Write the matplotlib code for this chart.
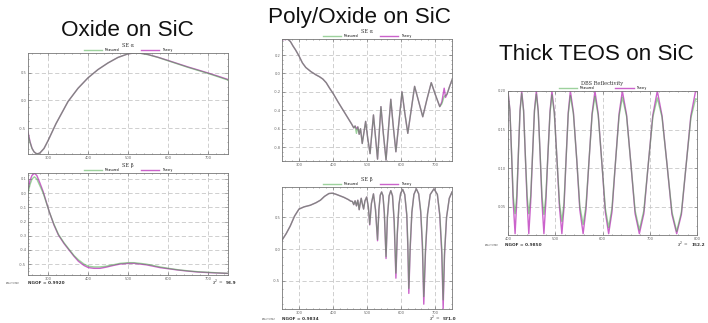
import matplotlib.pyplot as plt
from matplotlib.ticker import FixedLocator, AutoMinorLocator

# ---- Oxide on SiC : SE alpha ----
ox_a_wl = [250, 255, 260, 265, 270, 275, 280, 290, 300, 320, 350, 375, 400, 425,
           450, 475, 500, 515, 530, 550, 575, 600, 625, 650, 675, 700, 725, 750]
ox_a_meas = [-0.60, -0.76, -0.87, -0.93, -0.96, -0.965, -0.95, -0.87, -0.73, -0.42,
             -0.02, 0.22, 0.41, 0.56, 0.68, 0.78, 0.845, 0.86, 0.855, 0.83, 0.78,
             0.72, 0.66, 0.60, 0.545, 0.49, 0.43, 0.37]
ox_a_theo = [-0.57, -0.745, -0.865, -0.93, -0.96, -0.965, -0.95, -0.87, -0.73, -0.42,
             -0.02, 0.22, 0.41, 0.56, 0.68, 0.78, 0.845, 0.86, 0.858, 0.833, 0.783,
             0.725, 0.666, 0.607, 0.553, 0.498, 0.44, 0.38]

# ---- Oxide on SiC : SE beta ----
ox_b_wl = [250, 255, 260, 266, 272, 280, 288, 295, 303, 315, 326, 340, 351, 365, 376,
           390, 401, 415, 430, 445, 463, 480, 501, 515, 530, 545, 563, 580, 601, 625,
           651, 675, 701, 725, 750]
ox_b_meas = [0.00, 0.06, 0.10, 0.115, 0.10, 0.05, 0.00, -0.06, -0.13, -0.22, -0.29,
             -0.35, -0.39, -0.44, -0.47, -0.50, -0.515, -0.52, -0.52, -0.515, -0.505,
             -0.495, -0.49, -0.49, -0.495, -0.50, -0.51, -0.52, -0.53, -0.54, -0.548,
             -0.554, -0.558, -0.562, -0.565]
ox_b_theo = [0.02, 0.09, 0.125, 0.14, 0.125, 0.07, 0.01, -0.055, -0.13, -0.225, -0.295,
             -0.355, -0.395, -0.445, -0.48, -0.51, -0.525, -0.53, -0.53, -0.522, -0.51,
             -0.50, -0.495, -0.495, -0.50, -0.505, -0.515, -0.525, -0.533, -0.542, -0.55,
             -0.556, -0.56, -0.563, -0.566]

# ---- Poly/Oxide on SiC : SE alpha ----
po_a_wl = [250, 260, 268, 275, 282, 290, 300, 310, 320, 335, 350, 360, 370, 380, 390,
           400, 415, 430, 445, 455, 461, 465, 469, 473, 477, 481, 486, 491, 496, 502,
           509, 514, 519, 525, 531, 536, 541, 548, 556, 563, 570, 577, 585, 594, 603,
           611, 620, 630, 640, 652, 664, 676, 689, 701, 714, 720, 727, 731, 736, 743, 750]
po_a_meas = [0.37, 0.375, 0.37, 0.345, 0.30, 0.255, 0.19, 0.115, 0.065, 0.02, -0.015,
             -0.035, -0.06, -0.10, -0.16, -0.215, -0.31, -0.40, -0.49, -0.55, -0.59,
             -0.57, -0.65, -0.58, -0.66, -0.60, -0.76, -0.64, -0.52, -0.70, -0.87,
             -0.66, -0.45, -0.69, -0.93, -0.645, -0.36, -0.65, -0.94, -0.61, -0.28,
             -0.565, -0.85, -0.525, -0.20, -0.425, -0.65, -0.395, -0.14, -0.305, -0.47,
             -0.285, -0.10, -0.23, -0.36, -0.33, -0.25, -0.24, -0.22, -0.14, -0.07]
po_a_theo = [0.365, 0.37, 0.37, 0.345, 0.30, 0.255, 0.19, 0.115, 0.065, 0.02, -0.015,
             -0.035, -0.06, -0.10, -0.16, -0.215, -0.31, -0.40, -0.49, -0.55, -0.59,
             -0.57, -0.60, -0.58, -0.66, -0.60, -0.76, -0.64, -0.52, -0.70, -0.87,
             -0.66, -0.45, -0.69, -0.93, -0.645, -0.36, -0.65, -0.94, -0.61, -0.28,
             -0.565, -0.85, -0.525, -0.20, -0.425, -0.65, -0.395, -0.14, -0.305, -0.47,
             -0.285, -0.10, -0.23, -0.36, -0.31, -0.16, -0.26, -0.22, -0.14, -0.07]

# ---- Poly/Oxide on SiC : SE beta ----
po_b_wl = [250, 262, 274, 287, 300, 315, 333, 350, 363, 375, 388, 398, 408, 420, 432,
           445, 452, 457, 461, 465, 469, 473, 477, 480, 483, 486, 490, 494, 499, 504,
           508, 513, 519, 525, 531, 535, 539, 543, 547, 551, 556, 560, 565, 570, 575,
           580, 585, 589, 594, 599, 605, 611, 617, 620, 623, 627, 632, 638, 645, 652,
           658, 663, 667, 672, 678, 686, 697, 707, 714, 720, 724, 728, 734, 742, 750]
po_b_meas = [0.14, 0.24, 0.36, 0.52, 0.63, 0.665, 0.69, 0.73, 0.77, 0.83, 0.875, 0.88,
             0.865, 0.84, 0.815, 0.78, 0.755, 0.75, 0.70, 0.76, 0.68, 0.77, 0.62, 0.72,
             0.80, 0.72, 0.63, 0.76, 0.82, 0.66, 0.39, 0.72, 0.87, 0.62, 0.15, 0.62,
             0.85, 0.90, 0.84, 0.58, -0.12, 0.50, 0.84, 0.92, 0.84, 0.45, -0.38, 0.25,
             0.70, 0.88, 0.94, 0.86, 0.55, 0.10, -0.62, 0.05, 0.58, 0.86, 0.95, 0.87,
             0.60, 0.10, -0.75, 0.0, 0.55, 0.86, 0.95, 0.86, 0.55, 0.0, -0.80, -0.05,
             0.50, 0.80, 0.90]
po_b_theo = [0.14, 0.24, 0.36, 0.52, 0.63, 0.665, 0.69, 0.73, 0.77, 0.83, 0.875, 0.88,
             0.865, 0.84, 0.815, 0.78, 0.755, 0.75, 0.70, 0.76, 0.68, 0.77, 0.62, 0.72,
             0.80, 0.72, 0.63, 0.76, 0.82, 0.66, 0.38, 0.72, 0.87, 0.62, 0.13, 0.62,
             0.85, 0.90, 0.84, 0.56, -0.15, 0.50, 0.84, 0.92, 0.84, 0.42, -0.46, 0.22,
             0.70, 0.88, 0.94, 0.86, 0.53, 0.05, -0.70, 0.0, 0.58, 0.86, 0.95, 0.87,
             0.58, 0.03, -0.87, -0.05, 0.55, 0.86, 0.95, 0.86, 0.53, -0.08, -0.94, -0.10,
             0.50, 0.80, 0.90]

# ---- Thick TEOS on SiC : DBS reflectivity ----
dbs_wl = [400, 404, 407.5, 411, 415, 418.5, 422, 425.5,
          429, 433, 436.5, 440.5, 444, 448, 452, 456,
          460, 464, 468, 472, 476, 480, 484.5, 489,
          493, 498, 503.5, 509, 514, 518.5, 523, 527.5,
          532, 538.5, 545.5, 552, 559, 565, 571.5, 578,
          584, 591, 598.5, 606, 613, 620, 627.5, 635,
          642, 651, 660, 669, 678, 687.5, 697, 706.5,
          716, 726, 736.5, 747, 757, 767, 777, 787,
          797, 800]
dbs_meas = [0.198, 0.175, 0.120, 0.064, 0.041, 0.064, 0.119, 0.174,
            0.197, 0.174, 0.119, 0.064, 0.041, 0.064, 0.118, 0.174,
            0.196, 0.173, 0.118, 0.063, 0.040, 0.063, 0.118, 0.172,
            0.195, 0.171, 0.113, 0.055, 0.031, 0.055, 0.113, 0.170,
            0.194, 0.170, 0.111, 0.051, 0.027, 0.051, 0.110, 0.169,
            0.193, 0.168, 0.108, 0.048, 0.023, 0.048, 0.108, 0.167,
            0.192, 0.167, 0.106, 0.045, 0.020, 0.045, 0.106, 0.166,
            0.191, 0.166, 0.105, 0.043, 0.018, 0.043, 0.104, 0.165,
            0.190, 0.189]
dbs_theo = [0.200, 0.176, 0.120, 0.056, 0.015, 0.056, 0.119, 0.175,
            0.200, 0.175, 0.119, 0.056, 0.015, 0.056, 0.118, 0.175,
            0.200, 0.174, 0.118, 0.055, 0.015, 0.055, 0.118, 0.174,
            0.200, 0.173, 0.113, 0.049, 0.015, 0.049, 0.113, 0.172,
            0.200, 0.172, 0.111, 0.046, 0.015, 0.046, 0.110, 0.171,
            0.200, 0.170, 0.108, 0.043, 0.015, 0.043, 0.108, 0.170,
            0.200, 0.169, 0.106, 0.041, 0.015, 0.041, 0.106, 0.169,
            0.200, 0.168, 0.105, 0.040, 0.015, 0.040, 0.104, 0.168,
            0.200, 0.199]

# tick labels
se_xticks = [300, 400, 500, 600, 700]
dbs_xticks = [400, 500, 600, 700, 800]
ox_a_yticks = [0.5, 0.0, -0.5]
ox_b_yticks = [0.1, 0.0, -0.1, -0.2, -0.3, -0.4, -0.5]
po_a_yticks = [0.2, 0.0, -0.2, -0.4, -0.6, -0.8]
po_b_yticks = [0.5, 0.0, -0.5]
dbs_yticks = [0.20, 0.15, 0.10, 0.05]

W, H = 708, 323
fig = plt.figure(figsize=(W / 100, H / 100), dpi=100)
fig.patch.set_facecolor('white')

meas_color = '#3ca43c'
theo_color = '#be3cbe'


def panel(box, title, wl, meas, theo, xlim, ylim, xticks, yticks, yfmt):
    left, top, right, bottom = box
    ax = fig.add_axes([left / W, 1 - bottom / H, (right - left) / W, (bottom - top) / H])
    lt, = ax.plot(wl, theo, color=theo_color, alpha=0.8, lw=1.0, label='Theory')
    lm, = ax.plot(wl, meas, color=meas_color, alpha=0.5, lw=1.0, label='Measured')
    ax.set_xlim(*xlim)
    ax.set_ylim(*ylim)
    ax.xaxis.set_major_locator(FixedLocator(xticks))
    ax.yaxis.set_major_locator(FixedLocator(yticks))
    ax.set_xticklabels([str(t) for t in xticks])
    ax.set_yticklabels([yfmt.format(t) for t in yticks])
    ax.xaxis.set_minor_locator(AutoMinorLocator(5))
    ax.yaxis.set_minor_locator(AutoMinorLocator(4))
    ax.tick_params(which='both', direction='in', top=True, right=True,
                   colors='#666666', labelsize=2.6, pad=1.2, width=0.4)
    ax.tick_params(which='major', length=2)
    ax.tick_params(which='minor', length=1)
    ax.grid(True, which='major', color='#c8c8c8', ls=(0, (5, 3)), lw=0.6)
    for s in ax.spines.values():
        s.set_color('#777777')
        s.set_linewidth(0.6)
    ax.set_title(title, fontsize=3.6, family='DejaVu Serif', pad=4.5, color='#333333')
    ax.legend(handles=[lm, lt], loc='lower center', bbox_to_anchor=(0.5, 1.0), ncol=2,
              frameon=False, fontsize=2.2, handlelength=6, columnspacing=7,
              handletextpad=0.8, borderpad=0.1, borderaxespad=0.1)
    return ax


panel((28, 53, 228, 154), 'SE α', ox_a_wl, ox_a_meas, ox_a_theo,
      (250, 750), (-0.97, 0.86), se_xticks, ox_a_yticks, '{:.1f}')
panel((28, 173, 228, 275), 'SE β', ox_b_wl, ox_b_meas, ox_b_theo,
      (250, 750), (-0.577, 0.142), se_xticks, ox_b_yticks, '{:.1f}')
panel((282, 39, 452, 161), 'SE α', po_a_wl, po_a_meas, po_a_theo,
      (250, 750), (-0.95, 0.374), se_xticks, po_a_yticks, '{:.1f}')
panel((282, 187, 452, 309), 'SE β', po_b_wl, po_b_meas, po_b_theo,
      (250, 750), (-0.946, 0.978), se_xticks, po_b_yticks, '{:.1f}')
panel((508, 91, 697, 235), 'DBS Reflectivity', dbs_wl, dbs_meas, dbs_theo,
      (400, 800), (0.0133, 0.2), dbs_xticks, dbs_yticks, '{:.2f}')


def ftext(x, y, s, **kw):
    fig.text(x / W, 1 - y / H, s, **kw)


# big headings
head = dict(fontsize=16.2, family='Liberation Sans', ha='center', va='baseline', color='#111111')
ftext(127, 36.5, 'Oxide on SiC', **head)
ftext(359, 23.5, 'Poly/Oxide on SiC', **head)
ftext(596, 59.5, 'Thick TEOS on SiC', **head)

# fit summaries
small = dict(fontsize=1.5, family='DejaVu Sans', va='center', color='#444444', linespacing=1.2)
ngof = dict(fontsize=3.1, family='DejaVu Sans', weight='bold', va='center', color='#333333')
chi = dict(fontsize=3.1, ha='right', va='center', color='#333333')

ftext(6, 283, 'GOF=0.9920\nCount=0006', **small)
ftext(28, 283, 'NGOF = 0.9920', **ngof)
ftext(223, 283, r'$\chi^2$ =', **chi)
ftext(226, 283, '93.9', **ngof)

ftext(262, 319, 'GOF=0.9834\nCount=0006', **small)
ftext(282, 319, 'NGOF = 0.9834', **ngof)
ftext(440, 319, r'$\chi^2$ =', **chi)
ftext(443, 319, '571.0', **ngof)

ftext(485, 245, 'GOF=0.9850\nCount=0006', **small)
ftext(505, 245, 'NGOF = 0.9850', **ngof)
ftext(688, 245, r'$\chi^2$ =', **chi)
ftext(691, 245, '152.2', **ngof)

fig.savefig('out.png', dpi=100, facecolor='white')
